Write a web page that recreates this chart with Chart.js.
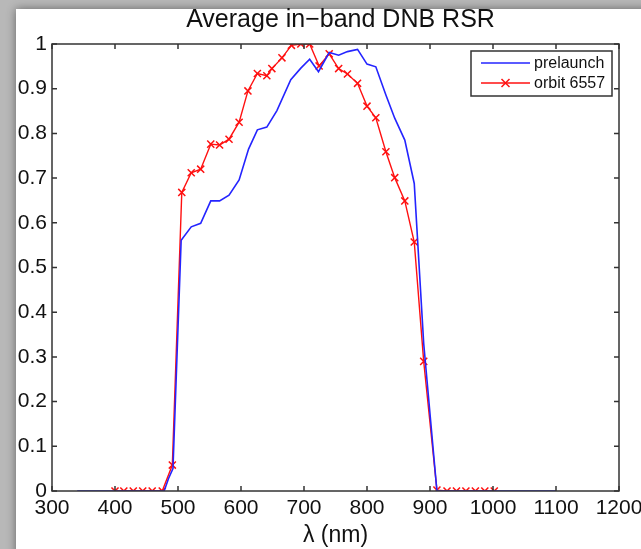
<!DOCTYPE html>
<html>
<head>
<meta charset="utf-8">
<script src="https://cdn.jsdelivr.net/npm/chart.js@4.4.0/dist/chart.umd.min.js"></script>
<style>
  html, body { margin: 0; padding: 0; background: #fff; }
  #wrap { width: 641px; height: 549px; position: relative; }
</style>
</head>
<body>
<div id="wrap"><canvas id="rsr" width="641" height="549"></canvas></div>
<script>
// values
const orbitWl = [400, 414, 429, 444, 459, 475, 491, 506, 521, 536, 552, 566, 581, 597, 611, 626,
  641, 649, 665, 680, 695, 709, 724, 740, 755, 769, 785, 800, 814, 830, 844, 860, 875, 890, 911,
  927, 942, 957, 972, 987, 1002];
const orbitRsr = [0, 0, 0, 0, 0, 0, 0.058, 0.668, 0.712, 0.72, 0.776, 0.774, 0.787, 0.825, 0.895, 0.934,
  0.929, 0.945, 0.969, 0.997, 1.0, 1.0, 0.951, 0.978, 0.945, 0.933, 0.912, 0.861, 0.835, 0.759, 0.701,
  0.649, 0.557, 0.29, 0.002, 0, 0, 0, 0, 0, 0];

const preWl = [340, 478, 485, 492, 505, 521, 536, 552, 566, 581, 597, 612, 626, 641, 657, 679, 695,
  709, 723, 740, 755, 769, 785, 800, 814, 830, 844, 860, 875, 890, 911, 1100];
const preRsr = [0, 0, 0.028, 0.05, 0.561, 0.591, 0.599, 0.649, 0.649, 0.662, 0.696, 0.765, 0.808,
  0.814, 0.851, 0.92, 0.946, 0.966, 0.938, 0.981, 0.975, 0.983, 0.988, 0.955, 0.949, 0.886, 0.834,
  0.785, 0.688, 0.33, 0, 0];

const xTicks = [300, 400, 500, 600, 700, 800, 900, 1000, 1100, 1200];
const yTicks = [0, 0.1, 0.2, 0.3, 0.4, 0.5, 0.6, 0.7, 0.8, 0.9, 1];

const TITLE = 'Average in−band DNB RSR';
const FONT = "'Liberation Sans', Arial, Helvetica, sans-serif";
const BLUE = '#2424ff';
const RED = '#ff1010';

const toPts = (xs, ys) => xs.map((x, i) => ({ x: x, y: ys[i] }));

// grey shadow frame like the screenshot
const backdrop = {
  id: 'backdrop',
  beforeDraw(chart) {
    const ctx = chart.ctx;
    ctx.save();
    ctx.fillStyle = '#b8b8b8';
    ctx.fillRect(0, 0, chart.width, chart.height);
    ctx.shadowColor = 'rgba(0,0,0,0.45)';
    ctx.shadowBlur = 9;
    ctx.fillStyle = '#fff';
    ctx.fillRect(16, 9, chart.width, chart.height);
    ctx.restore();
  }
};

// matlab style box with inward ticks, title over the axes, legend
const boxAxes = {
  id: 'boxAxes',
  afterDatasetsDraw(chart) {
    const ctx = chart.ctx;
    const a = chart.chartArea;
    const xs = chart.scales.x, ys = chart.scales.y;
    const tl = 5;
    ctx.save();
    ctx.strokeStyle = '#333';
    ctx.lineWidth = 1.5;
    ctx.strokeRect(a.left, a.top, a.right - a.left, a.bottom - a.top);
    ctx.beginPath();
    xTicks.forEach(v => {
      const px = xs.getPixelForValue(v);
      ctx.moveTo(px, a.bottom); ctx.lineTo(px, a.bottom - tl);
      ctx.moveTo(px, a.top); ctx.lineTo(px, a.top + tl);
    });
    yTicks.forEach(v => {
      const py = ys.getPixelForValue(v);
      ctx.moveTo(a.left, py); ctx.lineTo(a.left + tl, py);
      ctx.moveTo(a.right, py); ctx.lineTo(a.right - tl, py);
    });
    ctx.stroke();

    // title
    ctx.fillStyle = '#111';
    ctx.font = '25px ' + FONT;
    ctx.textAlign = 'center';
    ctx.textBaseline = 'alphabetic';
    ctx.fillText(TITLE, (a.left + a.right) / 2 + 5, a.top - 17);

    // legend
    const bw = 141, bh = 45;
    const bx = a.right - 7 - bw, by = a.top + 7;
    ctx.fillStyle = '#fff';
    ctx.fillRect(bx, by, bw, bh);
    ctx.strokeRect(bx, by, bw, bh);
    ctx.font = '16px ' + FONT;
    ctx.textAlign = 'left';
    ctx.textBaseline = 'middle';
    chart.data.datasets.forEach((ds, i) => {
      const ly = by + 12 + i * 20;
      ctx.strokeStyle = ds.borderColor;
      ctx.lineWidth = 1.5;
      ctx.beginPath();
      ctx.moveTo(bx + 10, ly); ctx.lineTo(bx + 59, ly);
      ctx.stroke();
      if (ds.pointStyle === 'crossRot') {
        const cx = bx + 34.5, r = 4;
        ctx.beginPath();
        ctx.moveTo(cx - r, ly - r); ctx.lineTo(cx + r, ly + r);
        ctx.moveTo(cx - r, ly + r); ctx.lineTo(cx + r, ly - r);
        ctx.stroke();
      }
      ctx.fillStyle = '#111';
      ctx.fillText(ds.label, bx + 63, ly + 1);
    });
    ctx.restore();
  }
};

new Chart(document.getElementById('rsr').getContext('2d'), {
  type: 'line',
  data: {
    datasets: [
      {
        label: 'prelaunch',
        data: toPts(preWl, preRsr),
        borderColor: BLUE,
        borderWidth: 1.6,
        pointRadius: 0,
        tension: 0
      },
      {
        label: 'orbit 6557',
        data: toPts(orbitWl, orbitRsr),
        borderColor: RED,
        borderWidth: 1.4,
        pointStyle: 'crossRot',
        pointRadius: 5,
        pointBorderWidth: 1.5,
        pointBorderColor: RED,
        tension: 0
      }
    ]
  },
  options: {
    responsive: false,
    animation: false,
    devicePixelRatio: 1,
    layout: { padding: { left: 0, right: 22, top: 44, bottom: 0 } },
    plugins: {
      legend: { display: false },
      tooltip: { enabled: false },
      title: { display: false }
    },
    scales: {
      x: {
        type: 'linear',
        min: 300,
        max: 1200,
        afterBuildTicks: s => { s.ticks = xTicks.map(v => ({ value: v })); },
        afterFit: s => { s.height = 58; s.paddingLeft = 0; s.paddingRight = 0; },
        grid: { display: false, drawTicks: false },
        border: { display: false },
        ticks: {
          padding: 5,
          autoSkip: false,
          color: '#111',
          maxRotation: 0,
          font: { family: FONT, size: 21 },
          callback: v => String(v)
        },
        title: {
          display: true,
          text: 'λ (nm)',
          color: '#111',
          font: { family: FONT, size: 23 },
          padding: { top: 0, bottom: 0 }
        }
      },
      y: {
        min: 0,
        max: 1,
        afterBuildTicks: s => { s.ticks = yTicks.map(v => ({ value: v })); },
        afterFit: s => { s.width = 52; s.paddingTop = 0; s.paddingBottom = 0; },
        grid: { display: false, drawTicks: false },
        border: { display: false },
        ticks: {
          padding: 5,
          autoSkip: false,
          color: '#111',
          font: { family: FONT, size: 21 },
          callback: v => String(v)
        }
      }
    }
  },
  plugins: [backdrop, boxAxes]
});
</script>
</body>
</html>
